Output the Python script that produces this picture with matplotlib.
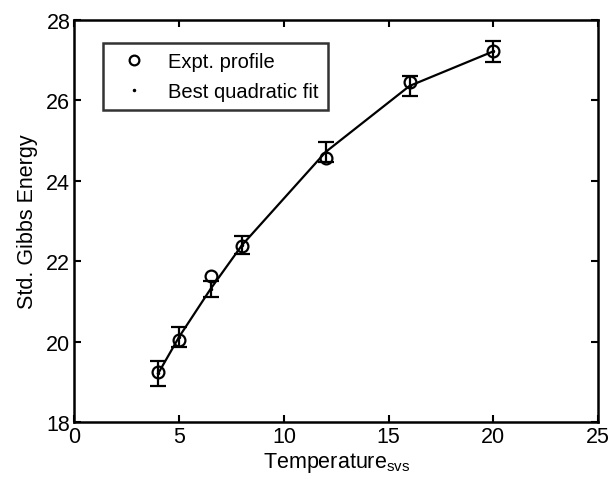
import matplotlib
matplotlib.use("Agg")
import matplotlib.pyplot as plt
from matplotlib.lines import Line2D

# data
temp = [4, 5, 6.5, 8, 12, 16, 20]
expt = [19.24, 20.04, 21.63, 22.39, 24.57, 26.45, 27.23]
fit = [19.21, 20.12, 21.31, 22.40, 24.72, 26.36, 27.22]
err = [0.31, 0.25, 0.20, 0.22, 0.25, 0.24, 0.27]

xticks = [0, 5, 10, 15, 20, 25]
yticks = [18, 20, 22, 24, 26, 28]

plt.rcParams['font.family'] = ['Liberation Sans', 'DejaVu Sans']
plt.rcParams['mathtext.fontset'] = 'custom'
plt.rcParams['mathtext.rm'] = 'Liberation Sans'
plt.rcParams['mathtext.it'] = 'Liberation Sans'

fig = plt.figure(figsize=(6.12, 4.89), dpi=100)
ax = fig.add_axes([0.1217, 0.135, 0.8554, 0.822])

# fit with error bars
ax.errorbar(temp, fit, yerr=err, color='black', linewidth=1.6,
            marker='.', markersize=3, capsize=5.5, capthick=1.6,
            elinewidth=1.6)
# experimental profile
ax.plot(temp, expt, linestyle='none', marker='o', markersize=8.5,
        markerfacecolor='none', markeredgecolor='black', markeredgewidth=1.6)

ax.set_xlim(0, 25)
ax.set_ylim(18, 28)
ax.set_xticks(xticks)
ax.set_yticks(yticks)
ax.tick_params(direction='in', length=5, width=1.5, top=True, right=True,
               labelsize=15.5, pad=3)
for s in ax.spines.values():
    s.set_linewidth(1.8)

ax.set_xlabel('Temperature$_{\\mathrm{svs}}$', fontsize=15.5, labelpad=2)
ax.set_ylabel('Std. Gibbs Energy', fontsize=15.5, labelpad=6)

legend_elements = [
    Line2D([0], [0], linestyle='none', marker='o', markersize=7,
           markerfacecolor='none', markeredgecolor='black', markeredgewidth=1.6,
           label='Expt. profile'),
    Line2D([0], [0], linestyle='none', marker='.', markersize=3,
           color='black', label='Best quadratic fit'),
]
leg = ax.legend(handles=legend_elements, loc='upper left',
                bbox_to_anchor=(0.054, 0.943), borderaxespad=0,
                fontsize=14.5, frameon=True, fancybox=False,
                edgecolor='black', handlelength=2.2, handletextpad=0.6,
                labelspacing=0.55, borderpad=0.45)
leg.get_frame().set_linewidth(1.8)

plt.savefig('out.png', dpi=100)
